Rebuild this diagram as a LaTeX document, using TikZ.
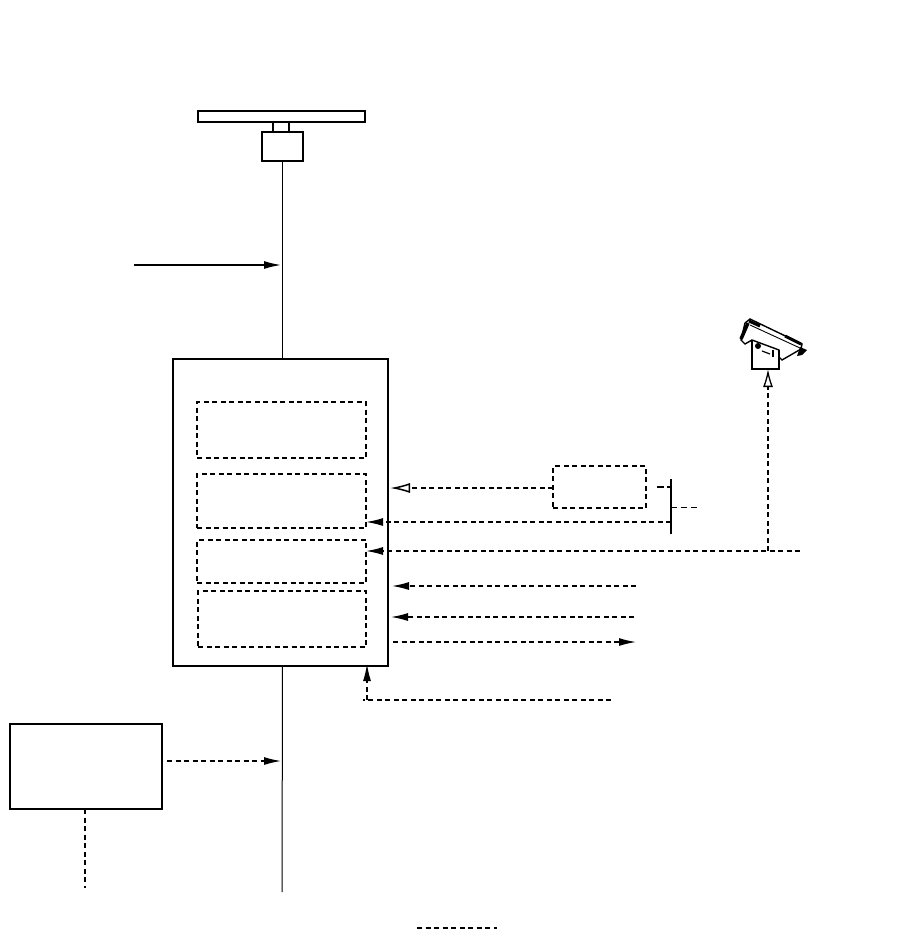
\documentclass[tikz,border=0pt]{standalone}
\usetikzlibrary{arrows.meta,calc}
\tikzset{
  x=1pt,y=-1pt,
  box/.style={draw,line width=1.5pt,minimum width=#1,inner sep=0pt,outer sep=0pt},
  dbox/.style={draw,line width=1.4pt,dash pattern=on 5pt off 3.5pt,inner sep=0pt,outer sep=0pt},
  sig/.style={line width=1.3pt,dash pattern=on 5pt off 3.5pt},
  solidhead/.style={-{Latex[length=17pt,width=8pt,fill=black]}},
  thin line/.style={line width=1pt},
}
\newcommand{\bx}[6][box=0pt]{\node[#1,minimum width=#4*1pt-#2*1pt,minimum height=#5*1pt-#3*1pt,anchor=north west] (#6) at (#2,#3) {};}
\begin{document}
\begin{tikzpicture}
\useasboundingbox (0,0) rectangle (919,940);
\fill[white] (0,0) rectangle (919,940);
% antenna
\bx{198}{111}{365}{122}{dish}
\bx{262}{132}{303}{161}{rx}
\draw[line width=1.3pt] (273,122) -- (273,132);
\draw[line width=1.3pt] (289,122) -- (289,132);
% main unit
\bx{173}{359}{388}{666}{main}
\bx[dbox]{197}{402}{366}{458}{m1}
\bx[dbox]{197}{474}{366}{528}{m2}
\bx[dbox]{197}{540}{366}{583}{m3}
\bx[dbox]{198}{591}{366}{647}{m4}
\bx{10}{724}{162}{809}{ext}
\bx[dbox]{553}{466}{646}{508}{sm}
% vertical bus
\coordinate (busIn) at (281,265);
\coordinate (busLow) at (281,761);
\coordinate (busEnd) at (282,892);
\draw[thin line] (rx.south) -- (main.north -| rx.south);
\draw[thin line] (main.south -| rx.south) -- (busEnd);
\coordinate (a0) at (134,265);
\draw[line width=1.4pt,solidhead] (a0) -- (busIn);
\draw[sig,solidhead] (ext.east |- busLow) ++(5,0) -- (busLow);
\coordinate (e1) at (85,888);
\draw[sig] (ext.south -| e1) -- (e1);
% small box to main
\coordinate (t1) at (390,488);
\draw[sig,-{Latex[open,length=20pt,width=10pt,line width=1.5pt]}] (sm.west |- t1) -- (t1);
% bar
\coordinate (barT) at (671,479);
\coordinate (barB) at (671,534);
\draw[line width=1.6pt] (barT) -- (barB);
\coordinate (q1) at (657,487);
\coordinate (q2) at (671,487);
\draw[line width=1.2pt,dash pattern=on 7pt off 3pt] (q1) -- (q2);
\coordinate (q3) at (671,507);
\coordinate (q4) at (698,507);
\draw[line width=.7pt,dash pattern=on 6pt off 4pt] (q3) -- (q4);
\coordinate (t2a) at (671,522);
\coordinate (t2b) at (366,522);
\draw[sig,solidhead] (t2a) -- (t2b);
% camera feed
\coordinate (t3a) at (800,551);
\coordinate (t3b) at (366,551);
\draw[sig,solidhead] (t3a) -- (t3b);
\coordinate (up0) at (768,551);
\coordinate (up1) at (768,369);
\draw[sig,-{Latex[open,length=18pt,width=10pt,line width=1.3pt]}] (up0) -- (up1);
\coordinate (r1a) at (636,586);
\coordinate (r1b) at (392,586);
\draw[sig,solidhead] (r1a) -- (r1b);
\coordinate (r2a) at (634,617);
\coordinate (r2b) at (391,617);
\draw[sig,solidhead] (r2a) -- (r2b);
\coordinate (r3a) at (393,642);
\coordinate (r3b) at (636,642);
\draw[sig,solidhead] (r3a) -- (r3b);
\coordinate (l1) at (611,700);
\coordinate (l2) at (367,700);
\coordinate (l3) at (367,664);
\draw[sig] (l1) -- (363,700);
\draw[sig,solidhead] (l2) -- (l3);
% legend dash
\coordinate (k1) at (417,928);
\coordinate (k2) at (497,928);
\draw[sig] (k1) -- (k2);
% camera
\draw[line width=1.4pt,fill=white] (745,323) -- (750,319) -- (802,344) -- (801,349) -- (782,360) -- (779,357) -- (779,350) -- (752,340) -- (745,344) -- (741,340) -- cycle;
\draw[line width=1.4pt] (752,340) -- (752,369) -- (779,369) -- (779,350);
\draw[line width=.9pt] (750,325) -- (800,348);
\draw[line width=3.5pt] (741,339) -- (748,323);
\draw[line width=3pt] (749,321) -- (760,326);
\draw[line width=3pt] (785,336) -- (801,344);
\fill (807,350) -- (800,347) -- (797,356) -- (802,355) -- cycle;
\fill (758,346) circle (3pt);
\draw[line width=1.2pt] (762,351) -- (770,354);
\draw[line width=1.8pt] (773,350) -- (773,357);
\end{tikzpicture}
\end{document}
